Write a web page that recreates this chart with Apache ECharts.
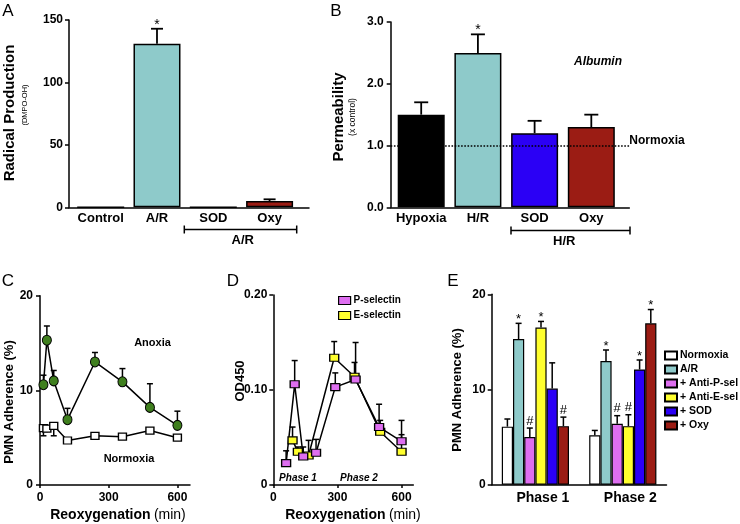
<!DOCTYPE html>
<html><head><meta charset="utf-8">
<script src="https://cdn.jsdelivr.net/npm/echarts@6/dist/echarts.min.js"></script>
<style>html,body{margin:0;padding:0;background:#fff}#c{width:740px;height:524px}</style>
</head><body><div id="c"></div>
<script>
const FONT = '"Liberation Sans", Arial, Helvetica, sans-serif';

// ---- Panel A ----
const aCategories = ['Control', 'A/R', 'SOD', 'Oxy'];
const aValues = [0, 131, 0, 5];
const aErrTop = [0, 143, 0, 6.4];
const aMarks = ['', '*', '', ''];
const aColors = ['#ffffff', '#8ecaca', '#ffffff', '#9b1c14'];

// ---- Panel B ----
const bCategories = ['Hypoxia', 'H/R', 'SOD', 'Oxy'];
const bValues = [1.5, 2.5, 1.2, 1.3];
const bErrTop = [1.7, 2.8, 1.4, 1.5];
const bMarks = ['', '*', '', ''];
const bColors = ['#000000', '#8ecaca', '#2b00f5', '#9b1c14'];
const bNormoxia = 1.0;

// ---- Panel C ----
const cTimes = [15, 30, 60, 120, 240, 360, 480, 600];
const cAnoxia = [10.6, 15.3, 11.0, 6.9, 13.0, 10.9, 8.2, 6.3];
const cAnoxiaErr = [11.6, 16.8, 12.1, 8.1, 14.0, 12.3, 10.7, 7.8];
const cNormoxia = [6.0, 5.95, 6.25, 4.7, 5.2, 5.1, 5.75, 5.0];
const cNormoxiaErrLow = [5.2, null, 5.2, null, null, null, null, null];
const cXTicks = [0, 300, 600];

// ---- Panel D ----
const dPTimes = [60, 100, 140, 200, 290, 385, 495, 600];
const dPSel = [0.023, 0.106, 0.030, 0.034, 0.103, 0.111, 0.061, 0.046];
const dPErr = [0.036, 0.131, 0.040, 0.048, 0.118, 0.150, 0.085, 0.068];
const dETimes = [90, 115, 165, 285, 380, 500, 600];
const dESel = [0.047, 0.035, 0.031, 0.134, 0.114, 0.056, 0.035];
const dEErr = [0.061, 0.040, 0.047, 0.151, 0.129, 0.068, 0.053];
const dXTicks = [0, 300, 600];

// ---- Panel E ----
const eCategories = ['Phase 1', 'Phase 2'];
const eSeriesNames = ['Normoxia', 'A/R', '+ Anti-P-sel', '+ Anti-E-sel', '+ SOD', '+ Oxy'];
const eColors = ['#ffffff', '#8ecaca', '#de6ef0', '#ffff2e', '#2b00f5', '#9b1c14'];
const eValues = [[6.1, 5.2], [15.3, 13.0], [5.0, 6.4], [16.5, 6.15], [10.1, 12.1], [6.15, 16.95]];
const eErrTop = [[6.9, 5.7], [16.95, 14.15], [5.95, 7.25], [17.15, 7.35], [12.8, 13.1], [7.1, 18.4]];
const eMarks = [['', ''], ['*', '*'], ['#', '#'], ['*', '#'], ['', '*'], ['#', '*']];

const BAR_W_E = 11.2;

function errRender(cfg) {
  return function (params, api) {
    const x = api.value(0), lo = api.value(1), hi = api.value(2);
    const i = params.dataIndex;
    const off = cfg.offsets ? cfg.offsets[i] : 0;
    const p0 = api.coord([x, lo]);
    const p1 = api.coord([x, hi]);
    const px = p0[0] + off;
    const ch = [];
    if (!isNaN(hi) && Math.abs(hi - lo) > 1e-9) {
      ch.push({type: 'line', shape: {x1: px, y1: p0[1], x2: px, y2: p1[1]}, style: {stroke: '#000', lineWidth: cfg.lw}});
      ch.push({type: 'line', shape: {x1: px - cfg.cap, y1: p1[1], x2: px + cfg.cap, y2: p1[1]}, style: {stroke: '#000', lineWidth: cfg.lw}});
    }
    const m = cfg.marks ? cfg.marks[i] : '';
    if (m) {
      const dy = m === '#' ? 7 : 4;
      ch.push({type: 'text', x: px, y: p1[1] - dy, style: {text: m, fill: '#000', font: cfg.markFont || ('14px ' + FONT), align: 'center', verticalAlign: 'middle', textAlign: 'center', textVerticalAlign: 'middle'}});
    }
    return {type: 'group', children: ch};
  };
}

const axisLineX = {show: true, onZero: false, lineStyle: {color: '#000', width: 1.5}};
const axisLineY = {show: true, onZero: false, lineStyle: {color: '#000', width: 1.5}};
const tickStyle = {show: true, length: 4, lineStyle: {color: '#000', width: 1.5}};
const lblBold = (size) => ({color: '#000', fontWeight: 'bold', fontSize: size, fontFamily: FONT});

// E error data
const eErrData = [], eErrMarks = [], eErrOff = [];
for (let s = 0; s < eSeriesNames.length; s++) {
  for (let c = 0; c < eCategories.length; c++) {
    eErrData.push([c, eValues[s][c], eErrTop[s][c]]);
    eErrMarks.push(eMarks[s][c]);
    eErrOff.push((s - 2.5) * BAR_W_E);
  }
}

const txt = (x, y, text, font, extra) => Object.assign({
  type: 'text', x: x, y: y, silent: true,
  style: {text: text, fill: '#000', font: font, align: 'center', verticalAlign: 'middle', textAlign: 'center', textVerticalAlign: 'middle'}
}, extra || {});

const bracket = (x1, x2, y) => ({
  type: 'group', silent: true, children: [
    {type: 'line', shape: {x1: x1, y1: y, x2: x2, y2: y}, style: {stroke: '#000', lineWidth: 1.5}},
    {type: 'line', shape: {x1: x1, y1: y - 4, x2: x1, y2: y + 4}, style: {stroke: '#000', lineWidth: 1.5}},
    {type: 'line', shape: {x1: x2, y1: y - 4, x2: x2, y2: y + 4}, style: {stroke: '#000', lineWidth: 1.5}}
  ]
});

const option = {
  animation: false,
  backgroundColor: '#fff',
  textStyle: {fontFamily: FONT},
  grid: [
    {left: 69, top: 20, width: 240, height: 187.3, outerBoundsMode: 'none', containLabel: false},
    {left: 390.7, top: 22, width: 238.6, height: 185.3, outerBoundsMode: 'none', containLabel: false},
    {left: 40, top: 295.7, width: 150, height: 189.3, outerBoundsMode: 'none', containLabel: false},
    {left: 273.3, top: 295, width: 140, height: 190, outerBoundsMode: 'none', containLabel: false},
    {left: 491.7, top: 294.3, width: 174.8, height: 190.4, outerBoundsMode: 'none', containLabel: false}
  ],
  xAxis: [
    {gridIndex: 0, type: 'value', min: -0.563, max: 3.70, axisLine: axisLineX, axisTick: {show: false}, splitLine: {show: false},
      axisLabel: Object.assign(lblBold(13), {margin: 5, customValues: [0, 1, 2, 3], formatter: v => aCategories[Math.round(v)]})},
    {gridIndex: 1, type: 'value', min: -0.538, max: 3.67, axisLine: axisLineX, axisTick: {show: false}, splitLine: {show: false},
      axisLabel: Object.assign(lblBold(13), {margin: 5, customValues: [0, 1, 2, 3], formatter: v => bCategories[Math.round(v)]})},
    {gridIndex: 2, type: 'value', min: 0, max: 655, axisLine: axisLineX, splitLine: {show: false},
      axisTick: Object.assign({}, tickStyle, {length: 3, customValues: cXTicks}),
      axisLabel: Object.assign(lblBold(12), {margin: 7, customValues: cXTicks})},
    {gridIndex: 3, type: 'value', min: 0, max: 655, axisLine: axisLineX, splitLine: {show: false},
      axisTick: Object.assign({}, tickStyle, {length: 3, customValues: dXTicks}),
      axisLabel: Object.assign(lblBold(12), {margin: 7, customValues: dXTicks})},
    {gridIndex: 4, type: 'category', data: eCategories, axisLine: axisLineX, axisTick: {show: false}, splitLine: {show: false},
      axisLabel: {margin: 6, formatter: v => '{a|' + v + '}', rich: {a: {color: '#000', fontWeight: 'bold', fontSize: 14, fontFamily: FONT, padding: [0, 0, 0, 15]}}}}
  ],
  yAxis: [
    {gridIndex: 0, type: 'value', min: 0, max: 150, interval: 50, axisLine: axisLineY, axisTick: tickStyle, splitLine: {show: false},
      axisLabel: Object.assign(lblBold(12), {margin: 6})},
    {gridIndex: 1, type: 'value', min: 0, max: 3, interval: 1, axisLine: axisLineY, axisTick: tickStyle, splitLine: {show: false},
      axisLabel: Object.assign(lblBold(12), {margin: 7, formatter: v => v.toFixed(1)})},
    {gridIndex: 2, type: 'value', min: 0, max: 20, interval: 10, axisLine: axisLineY, axisTick: tickStyle, splitLine: {show: false},
      axisLabel: Object.assign(lblBold(12), {margin: 7})},
    {gridIndex: 3, type: 'value', min: 0, max: 0.2, interval: 0.1, axisLine: axisLineY, axisTick: tickStyle, splitLine: {show: false},
      axisLabel: Object.assign(lblBold(12), {margin: 6, formatter: v => v === 0 ? '0' : v.toFixed(2)})},
    {gridIndex: 4, type: 'value', min: 0, max: 20, interval: 10, axisLine: axisLineY, axisTick: tickStyle, splitLine: {show: false},
      axisLabel: Object.assign(lblBold(12), {margin: 6})}
  ],
  legend: [
    {data: eSeriesNames, orient: 'vertical', left: 664, top: 350, icon: 'rect', itemWidth: 12, itemHeight: 8, itemGap: 3, padding: 0,
      selectedMode: false, textStyle: {color: '#000', fontWeight: 'bold', fontSize: 10.5, fontFamily: FONT, lineHeight: 11, padding: [0, 0, 0, -2]}},
    {data: [
        {name: 'P-selectin', icon: 'rect', itemStyle: {color: '#de6ef0', borderColor: '#000', borderWidth: 1.2}},
        {name: 'E-selectin', icon: 'rect', itemStyle: {color: '#ffff2e', borderColor: '#000', borderWidth: 1.2}}
      ],
      orient: 'vertical', left: 338, top: 295, itemWidth: 12, itemHeight: 8, itemGap: 4, padding: 0, selectedMode: false,
      textStyle: {color: '#000', fontWeight: 'bold', fontSize: 10, fontFamily: FONT, lineHeight: 11, padding: [0, 0, 0, -2]}}
  ],
  series: [
    // A
    {type: 'bar', xAxisIndex: 0, yAxisIndex: 0, barWidth: 47,
      data: aValues.map((v, i) => ({value: [i, v], itemStyle: {color: aColors[i]}})),
      itemStyle: {borderColor: '#000', borderWidth: 1.5}},
    {type: 'custom', xAxisIndex: 0, yAxisIndex: 0, encode: {x: 0, y: [1, 2]}, z: 3,
      data: aValues.map((v, i) => [i, v, aErrTop[i]]),
      renderItem: errRender({cap: 6, lw: 1.8, marks: aMarks})},
    // B
    {type: 'bar', xAxisIndex: 1, yAxisIndex: 1, barWidth: 47,
      data: bValues.map((v, i) => ({value: [i, v], itemStyle: {color: bColors[i]}})),
      itemStyle: {borderColor: '#000', borderWidth: 1.5},
      markLine: {silent: true, symbol: 'none', lineStyle: {type: 'dotted', color: '#000', width: 1.6},
        label: {show: true, position: 'end', formatter: 'Normoxia', color: '#000', fontWeight: 'bold', fontSize: 12, fontFamily: FONT, distance: 0, offset: [0, -5]},
        data: [{yAxis: bNormoxia}]}},
    {type: 'custom', xAxisIndex: 1, yAxisIndex: 1, encode: {x: 0, y: [1, 2]}, z: 3,
      data: bValues.map((v, i) => [i, v, bErrTop[i]]),
      renderItem: errRender({cap: 7, lw: 1.8, marks: bMarks})},
    // C
    {type: 'custom', xAxisIndex: 2, yAxisIndex: 2, encode: {x: 0, y: [1, 2]}, z: 1,
      data: cTimes.map((t, i) => [t, cAnoxia[i], cAnoxiaErr[i]]),
      renderItem: errRender({cap: 3, lw: 1.5})},
    {type: 'custom', xAxisIndex: 2, yAxisIndex: 2, encode: {x: 0, y: [1, 2]}, z: 1,
      data: cTimes.map((t, i) => [t, cNormoxia[i], cNormoxiaErrLow[i] == null ? cNormoxia[i] : cNormoxiaErrLow[i]]),
      renderItem: errRender({cap: 3, lw: 1.5})},
    {type: 'line', name: 'Anoxia', xAxisIndex: 2, yAxisIndex: 2, z: 3,
      data: cTimes.map((t, i) => [t, cAnoxia[i]]),
      lineStyle: {color: '#000', width: 1.5}, symbol: 'circle', symbolSize: [9, 10],
      itemStyle: {color: '#3f7f1e', borderColor: '#000', borderWidth: 1}},
    {type: 'line', name: 'NormoxiaC', xAxisIndex: 2, yAxisIndex: 2, z: 3,
      data: cTimes.map((t, i) => [t, cNormoxia[i]]),
      lineStyle: {color: '#000', width: 1.5}, symbol: 'rect', symbolSize: [8, 7],
      itemStyle: {color: '#ffffff', borderColor: '#000', borderWidth: 1.3}},
    // D
    {type: 'custom', xAxisIndex: 3, yAxisIndex: 3, encode: {x: 0, y: [1, 2]}, z: 1,
      data: dPTimes.map((t, i) => [t, dPSel[i], dPErr[i]]),
      renderItem: errRender({cap: 3, lw: 1.5})},
    {type: 'custom', xAxisIndex: 3, yAxisIndex: 3, encode: {x: 0, y: [1, 2]}, z: 1,
      data: dETimes.map((t, i) => [t, dESel[i], dEErr[i]]),
      renderItem: errRender({cap: 3, lw: 1.5})},
    {type: 'line', name: 'E-selectin', xAxisIndex: 3, yAxisIndex: 3, z: 3,
      data: dETimes.map((t, i) => [t, dESel[i]]),
      lineStyle: {color: '#000', width: 1.5}, symbol: 'rect', symbolSize: [9, 7],
      itemStyle: {color: '#ffff2e', borderColor: '#000', borderWidth: 1.2}},
    {type: 'line', name: 'P-selectin', xAxisIndex: 3, yAxisIndex: 3, z: 3,
      data: dPTimes.map((t, i) => [t, dPSel[i]]),
      lineStyle: {color: '#000', width: 1.5}, symbol: 'rect', symbolSize: [9, 7],
      itemStyle: {color: '#de6ef0', borderColor: '#000', borderWidth: 1.2}},
    // E
    ...eSeriesNames.map((n, s) => ({
      type: 'bar', name: n, xAxisIndex: 4, yAxisIndex: 4, barWidth: BAR_W_E, barGap: '0%',
      data: eValues[s], itemStyle: {color: eColors[s], borderColor: '#000', borderWidth: 1.2}
    })),
    {type: 'custom', xAxisIndex: 4, yAxisIndex: 4, encode: {x: 0, y: [1, 2]}, z: 3,
      data: eErrData,
      renderItem: errRender({cap: 3, lw: 1.5, marks: eErrMarks, offsets: eErrOff, markFont: '13px ' + FONT})}
  ],
  graphic: [
    // panel letters
    txt(8, 11, 'A', '17px ' + FONT),
    txt(336, 11, 'B', '17px ' + FONT),
    txt(8, 281, 'C', '17px ' + FONT),
    txt(233, 281, 'D', '17px ' + FONT),
    txt(453, 281, 'E', '17px ' + FONT),
    // y titles
    txt(10, 113, 'Radical Production', 'bold 15px ' + FONT, {rotation: Math.PI / 2}),
    txt(25, 105, '(DMPO-OH)', '7.5px ' + FONT, {rotation: Math.PI / 2}),
    txt(339, 117, 'Permeability', 'bold 15px ' + FONT, {rotation: Math.PI / 2}),
    txt(353, 117, '(x control)', '8.5px ' + FONT, {rotation: Math.PI / 2}),
    txt(9, 402, 'PMN Adherence (%)', 'bold 13px ' + FONT, {rotation: Math.PI / 2}),
    txt(240, 381, 'OD450', 'bold 13px ' + FONT, {rotation: Math.PI / 2}),
    txt(457, 390, 'PMN Adherence (%)', 'bold 13px ' + FONT, {rotation: Math.PI / 2}),
    // x titles
    {type: 'text', x: 118, y: 515, silent: true, style: {text: '{b|Reoxygenation} {n|(min)}', rich: {b: {font: 'bold 14px ' + FONT, fill: '#000'}, n: {font: '14px ' + FONT, fill: '#000'}}, align: 'center', verticalAlign: 'middle', textAlign: 'center', textVerticalAlign: 'middle'}},
    {type: 'text', x: 353, y: 515, silent: true, style: {text: '{b|Reoxygenation} {n|(min)}', rich: {b: {font: 'bold 14px ' + FONT, fill: '#000'}, n: {font: '14px ' + FONT, fill: '#000'}}, align: 'center', verticalAlign: 'middle', textAlign: 'center', textVerticalAlign: 'middle'}},
    // brackets
    bracket(184.3, 296.7, 229.5),
    txt(242.7, 240.5, 'A/R', 'bold 13px ' + FONT),
    bracket(511, 630, 230.5),
    txt(564.3, 241, 'H/R', 'bold 13px ' + FONT),
    // annotations
    txt(598, 62, 'Albumin', 'italic bold 12px ' + FONT),
    txt(152.5, 343, 'Anoxia', 'bold 11px ' + FONT),
    txt(129, 459, 'Normoxia', 'bold 11px ' + FONT),
    txt(298, 478, 'Phase 1', 'italic bold 10px ' + FONT),
    txt(359, 478, 'Phase 2', 'italic bold 10px ' + FONT)
  ]
};

const chart = echarts.init(document.getElementById('c'), null, {renderer: 'canvas'});
chart.setOption(option);
</script>
</body></html>
